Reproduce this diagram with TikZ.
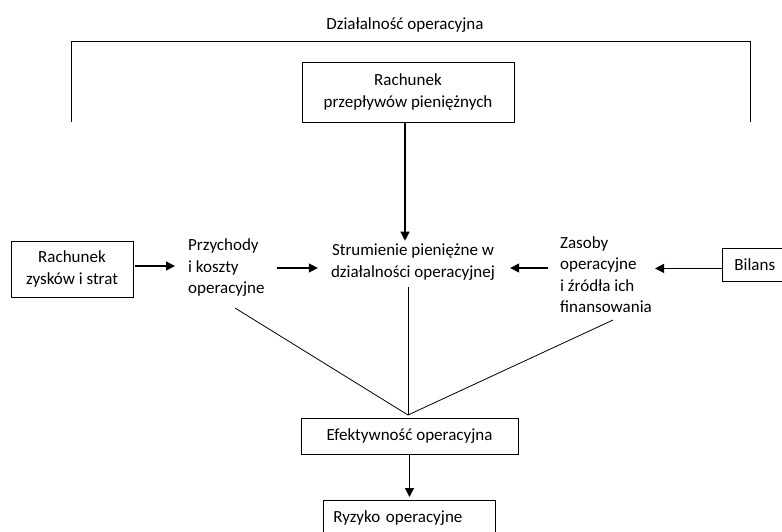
\documentclass[tikz,border=0pt]{standalone}
\usepackage{fontspec}
\setmainfont{Carlito}
\usetikzlibrary{arrows.meta}
\begin{document}
\begin{tikzpicture}[x=1pt,y=-1pt,
  every node/.style={font=\fontsize{17}{21.5}\selectfont, inner sep=3pt},
  box/.style={draw, line width=0.8pt},
  arr/.style={line width=1.3pt, -{Triangle[width=9pt,length=9pt]}},
  thin/.style={line width=0.8pt}]
\useasboundingbox (0,0) rectangle (782,531);
\clip (0,0) rectangle (782,531);
% title and bracket
\node (title) at (405,25) {Działalność operacyjna};
\coordinate (bl) at (71,122);
\coordinate (tl) at (71,41);
\coordinate (tr) at (750,41);
\coordinate (br) at (750,122);
\draw[thin] (bl) -- (tl) -- (tr) -- (br);
% nodes
\node[box, minimum width=212pt, minimum height=60pt, align=center] (cf) at (408,92) {Rachunek\\przepływów pieniężnych};
\node[align=center] (strum) at (413,262) {Strumienie pieniężne w\\działalności operacyjnej};
\node[box, minimum width=122pt, minimum height=56pt, align=center] (rzis) at (72,269) {Rachunek\\zysków i strat};
\node[anchor=west, align=left] (przych) at (185,268) {Przychody\\i koszty\\operacyjne};
\node[anchor=west, align=left] (zas) at (557,274.5) {Zasoby\\operacyjne\\i źródła ich\\finansowania};
\node[box, anchor=north west, minimum width=70pt, minimum height=33pt, inner xsep=12pt, text width=46pt, align=left] (bil) at (722,248) {Bilans};
\node[box, minimum width=217pt, minimum height=36pt] (efek) at (409.5,436) {Efektywność operacyjna};
\node[box, anchor=north west, minimum width=172pt, minimum height=36pt, inner xsep=10pt, text width=152pt, align=left] (ryz) at (323,500) {Ryzyko operacyjne};
% arrows
\draw[arr] ([xshift=-3pt]cf.south) -- ([xshift=-3pt]cf.south |- strum.north);
\draw[arr, shorten <=2pt, shorten >=10pt] ([yshift=3pt]rzis.east) -- ([yshift=3pt]rzis.east -| przych.west);
\draw[arr, shorten <=9pt, shorten >=10pt] (przych.east) -- (przych.east -| strum.west);
\draw[arr, shorten <=9pt, shorten >=12pt] ([yshift=6.5pt]zas.west) -- ([yshift=6.5pt]zas.west -| strum.east);
\draw[arr] ([yshift=-3.5pt]bil.west) -- ([yshift=-3.5pt]bil.west -| zas.east);
\draw[arr, shorten >=3pt] (efek.south) -- (efek.south |- ryz.north);
% convergence lines
\coordinate (apex) at (408,415);
\coordinate (p1) at (235,308);
\coordinate (p2) at (408,287);
\coordinate (p3) at (613,320);
\draw[thin] (p1) -- (apex);
\draw[thin] (p2) -- (apex);
\draw[thin] (p3) -- (apex);
\end{tikzpicture}
\end{document}
